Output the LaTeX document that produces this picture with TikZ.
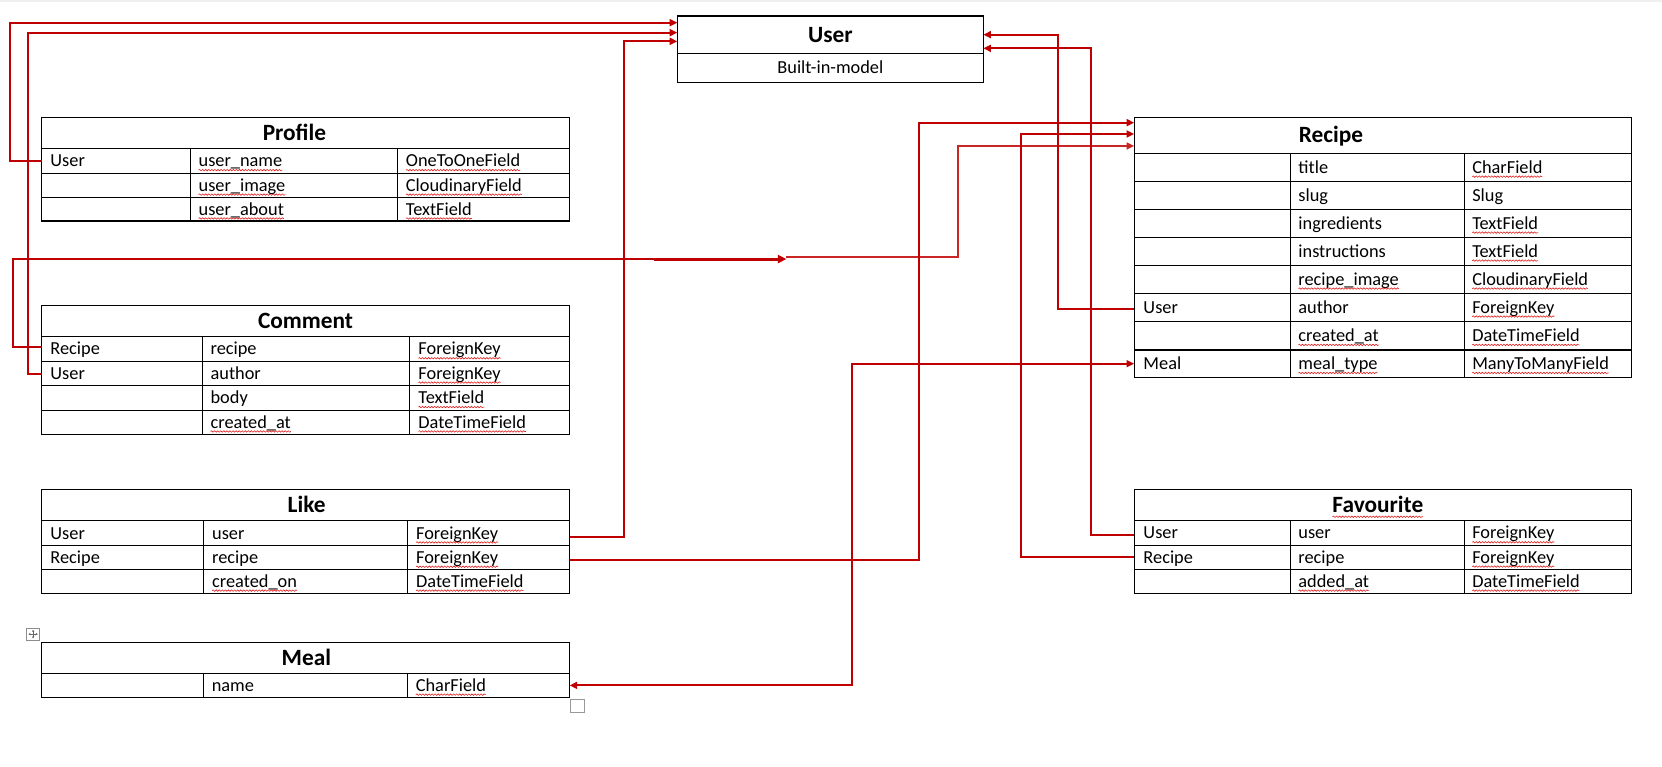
\documentclass[tikz,border=0pt]{standalone}
\usepackage{fontspec}
\setmainfont{Carlito}
\usetikzlibrary{fit,calc,arrows.meta,decorations.pathmorphing}
\definecolor{conn}{RGB}{192,0,0}
\definecolor{squigred}{RGB}{225,30,30}
\tikzset{
 rowbox/.style={draw=black, line width=0.8pt, inner sep=0pt, outer sep=0pt},
 divider/.style={draw=black, line width=0.8pt},
 txt/.style={anchor=base west, inner sep=0pt, outer sep=0pt, font=\fontsize{13.75pt}{16pt}\selectfont},
 ttl/.style={anchor=base, inner sep=0pt, outer sep=0pt, font=\bfseries\fontsize{17.5pt}{20pt}\selectfont},
 rel/.style={draw=conn, line width=1.5pt},
 reltip/.style={-{Triangle[length=5.7pt,width=5.2pt]}},
 relboth/.style={{Triangle[length=5.7pt,width=5.2pt]}-{Triangle[length=5.7pt,width=5.2pt]}},
 squig/.style={draw=squigred, line width=0.45pt, decorate, decoration={snake, amplitude=0.55pt, segment length=2.3pt}},
}
\newcommand\mkrow[5]{\node[rowbox, fit={(#2,#3) (#4,#5)}] (#1) {};}
\newcommand\mkfld[4]{\node[txt, yshift=-4.45pt] (#1) at (#3,0 |- #2.west) {#4};}
\newcommand\squ[1]{\draw[squig] ([yshift=-2.5pt]#1.base west) -- ([yshift=-2.5pt]#1.base east);}
\begin{document}
\begin{tikzpicture}[x=0.795pt, y={(0pt,-0.795pt)}]
\useasboundingbox (0,0) rectangle (1568,723);
\fill[white] (0,0) rectangle (1568,723);
\fill[black!6] (0,0) rectangle (1568,2);

% ---------- User ----------
\mkrow{userH}{639}{15.1}{927.7}{50.3}
\mkrow{userB}{639}{50.3}{927.7}{77.4}
\node[ttl, yshift=-5.64pt] (userT) at (783.4,0 |- userH.center) {User};
\node[txt, anchor=base, yshift=-4.45pt] (userS) at (783.4,0 |- userB.center) {Built-in-model};

% ---------- Profile ----------
\mkrow{profH}{39.2}{110.7}{537.4}{140}
\mkrow{profR1}{39.2}{140}{537.4}{163.5}
\mkrow{profR2}{39.2}{163.5}{537.4}{186.2}
\mkrow{profR3}{39.2}{186.2}{537.4}{208.5}
\draw[divider] (179.8,140) -- (179.8,208.5) (374.9,140) -- (374.9,208.5);
\node[ttl, yshift=-5.64pt] (profT) at (277.8,0 |- profH.center) {Profile};
\mkfld{profA1}{profR1}{47.6}{User}
\mkfld{profB1}{profR1}{187.4}{user\_name}\squ{profB1}
\mkfld{profC1}{profR1}{383}{OneToOneField}\squ{profC1}
\mkfld{profB2}{profR2}{187.4}{user\_image}\squ{profB2}
\mkfld{profC2}{profR2}{383}{CloudinaryField}\squ{profC2}
\mkfld{profB3}{profR3}{187.4}{user\_about}\squ{profB3}
\mkfld{profC3}{profR3}{383}{TextField}\squ{profC3}

% ---------- Comment ----------
\mkrow{cmH}{39.2}{288.4}{537.4}{317.6}
\mkrow{cmR1}{39.2}{317.6}{537.4}{340.9}
\mkrow{cmR2}{39.2}{340.9}{537.4}{363.5}
\mkrow{cmR3}{39.2}{363.5}{537.4}{387.1}
\mkrow{cmR4}{39.2}{387.1}{537.4}{409.5}
\draw[divider] (190.8,317.6) -- (190.8,409.5) (386.2,317.6) -- (386.2,409.5);
\node[ttl, yshift=-5.64pt] (cmT) at (288.3,0 |- cmH.center) {Comment};
\mkfld{cmA1}{cmR1}{47.6}{Recipe}
\mkfld{cmB1}{cmR1}{198.7}{recipe}
\mkfld{cmC1}{cmR1}{394.8}{ForeignKey}\squ{cmC1}
\mkfld{cmA2}{cmR2}{47.6}{User}
\mkfld{cmB2}{cmR2}{198.7}{author}
\mkfld{cmC2}{cmR2}{394.8}{ForeignKey}\squ{cmC2}
\mkfld{cmB3}{cmR3}{198.7}{body}
\mkfld{cmC3}{cmR3}{394.8}{TextField}\squ{cmC3}
\mkfld{cmB4}{cmR4}{198.7}{created\_at}\squ{cmB4}
\mkfld{cmC4}{cmR4}{394.8}{DateTimeField}\squ{cmC4}

% ---------- Like ----------
\mkrow{likeH}{39.2}{461.6}{537.4}{491.2}
\mkrow{likeR1}{39.2}{491.2}{537.4}{514.8}
\mkrow{likeR2}{39.2}{514.8}{537.4}{537.1}
\mkrow{likeR3}{39.2}{537.1}{537.4}{559.8}
\draw[divider] (192,491.2) -- (192,559.8) (384.5,491.2) -- (384.5,559.8);
\node[ttl, yshift=-5.64pt] (likeT) at (289.3,0 |- likeH.center) {Like};
\mkfld{likeA1}{likeR1}{47.6}{User}
\mkfld{likeB1}{likeR1}{200.2}{user}
\mkfld{likeC1}{likeR1}{392.6}{ForeignKey}\squ{likeC1}
\mkfld{likeA2}{likeR2}{47.6}{Recipe}
\mkfld{likeB2}{likeR2}{200.2}{recipe}
\mkfld{likeC2}{likeR2}{392.6}{ForeignKey}\squ{likeC2}
\mkfld{likeB3}{likeR3}{200.2}{created\_on}\squ{likeB3}
\mkfld{likeC3}{likeR3}{392.6}{DateTimeField}\squ{likeC3}

% ---------- Meal ----------
\mkrow{mealH}{39.2}{606}{537.4}{635.3}
\mkrow{mealR1}{39.2}{635.3}{537.4}{657.9}
\draw[divider] (192,635.3) -- (192,657.9) (384.5,635.3) -- (384.5,657.9);
\node[ttl, yshift=-5.64pt] (mealT) at (289,0 |- mealH.center) {Meal};
\mkfld{mealB1}{mealR1}{199.8}{name}
\mkfld{mealC1}{mealR1}{392.3}{CharField}\squ{mealC1}

% ---------- Recipe ----------
\mkrow{recH}{1070}{110.7}{1539.6}{144.7}
\mkrow{recR1}{1070}{144.7}{1539.6}{171.1}
\mkrow{recR2}{1070}{171.1}{1539.6}{197.5}
\mkrow{recR3}{1070}{197.5}{1539.6}{223.9}
\mkrow{recR4}{1070}{223.9}{1539.6}{250.3}
\mkrow{recR5}{1070}{250.3}{1539.6}{276.7}
\mkrow{recR6}{1070}{276.7}{1539.6}{303.1}
\mkrow{recR7}{1070}{303.1}{1539.6}{330.2}
\mkrow{recR8}{1070}{330.2}{1539.6}{356}
\draw[divider] (1217.4,144.7) -- (1217.4,356) (1381.5,144.7) -- (1381.5,356);
\node[ttl, yshift=-5.64pt] (recT) at (1255.7,0 |- recH.center) {Recipe};
\mkfld{recB1}{recR1}{1225}{title}
\mkfld{recC1}{recR1}{1389}{CharField}\squ{recC1}
\mkfld{recB2}{recR2}{1225}{slug}
\mkfld{recC2}{recR2}{1389}{Slug}
\mkfld{recB3}{recR3}{1225}{ingredients}
\mkfld{recC3}{recR3}{1389}{TextField}\squ{recC3}
\mkfld{recB4}{recR4}{1225}{instructions}
\mkfld{recC4}{recR4}{1389}{TextField}\squ{recC4}
\mkfld{recB5}{recR5}{1225}{recipe\_image}\squ{recB5}
\mkfld{recC5}{recR5}{1389}{CloudinaryField}\squ{recC5}
\mkfld{recA6}{recR6}{1078.8}{User}
\mkfld{recB6}{recR6}{1225}{author}
\mkfld{recC6}{recR6}{1389}{ForeignKey}\squ{recC6}
\mkfld{recB7}{recR7}{1225}{created\_at}\squ{recB7}
\mkfld{recC7}{recR7}{1389}{DateTimeField}\squ{recC7}
\mkfld{recA8}{recR8}{1078.8}{Meal}
\mkfld{recB8}{recR8}{1225}{meal\_type}\squ{recB8}
\mkfld{recC8}{recR8}{1389}{ManyToManyField}\squ{recC8}

% ---------- Favourite ----------
\mkrow{favH}{1070}{461.6}{1539.6}{491.2}
\mkrow{favR1}{1070}{491.2}{1539.6}{514.5}
\mkrow{favR2}{1070}{514.5}{1539.6}{537.1}
\mkrow{favR3}{1070}{537.1}{1539.6}{559.8}
\draw[divider] (1217.4,491.2) -- (1217.4,559.8) (1381.5,491.2) -- (1381.5,559.8);
\node[ttl, yshift=-5.64pt] (favT) at (1299.9,0 |- favH.center) {Favourite};
\draw[squig] ([yshift=-3.2pt]favT.base west) -- ([yshift=-3.2pt]favT.base east);
\mkfld{favA1}{favR1}{1078.8}{User}
\mkfld{favB1}{favR1}{1225}{user}
\mkfld{favC1}{favR1}{1389}{ForeignKey}\squ{favC1}
\mkfld{favA2}{favR2}{1078.8}{Recipe}
\mkfld{favB2}{favR2}{1225}{recipe}
\mkfld{favC2}{favR2}{1389}{ForeignKey}\squ{favC2}
\mkfld{favB3}{favR3}{1225}{added\_at}\squ{favB3}
\mkfld{favC3}{favR3}{1389}{DateTimeField}\squ{favC3}

% ---------- Word table handles ----------
\draw[black!45, line width=0.5pt, fill=white] (25,592.5) rectangle (37.5,604);
\draw[black!60, line width=0.4pt, {Stealth[length=1.6pt,width=1.8pt]}-{Stealth[length=1.6pt,width=1.8pt]}] (26.8,598.25) -- (35.7,598.25);
\draw[black!60, line width=0.4pt, {Stealth[length=1.6pt,width=1.8pt]}-{Stealth[length=1.6pt,width=1.8pt]}] (31.25,594.2) -- (31.25,602.3);
\draw[black!40, line width=0.6pt] (538.5,659.5) rectangle (551,672);

% ---------- Connectors ----------
\draw[rel, reltip] (profR1.west) -- ++(-29.9,0) |- ($(userH.north west)+(0,6.3)$);
\draw[rel, reltip] ($(cmR2.west)+(0,1)$) -- ++(-13.1,0) |- ($(userH.north west)+(0,15.7)$);
\draw[rel, reltip] ($(likeR1.east)+(0,3.3)$) -- ++(51.1,0) |- ($(userH.north west)+(0,23.9)$);

\coordinate (c4a) at (617,244.4);
\coordinate (c4b) at (742,244.4);
\coordinate (c4c) at (742,242.2);
\draw[rel] ($(cmR1.west)+(0,-2.2)$) -- ++(-27.4,0) |- (c4a);
\draw[rel, line width=2.2pt, -{Triangle[length=6.5pt,width=6pt]}] (c4a) -- (c4b);
\draw[rel, draw=conn!85!white, reltip] (c4c) -- ++(161.5,0) |- ($(recH.north west)+(0,27)$);

\draw[rel, reltip] ($(likeR2.east)+(0,2.4)$) -- ++(329.3,0) |- ($(recH.north west)+(0,5)$);
\draw[rel, relboth] (recR8.west) -- ++(-266.2,0) |- (mealR1.east);
\draw[rel, reltip] ($(recR6.west)+(0,1.6)$) -- ++(-71.7,0) |- ($(userH.north east)+(0,17.6)$);
\draw[rel, reltip] ($(favR1.west)+(0,1.9)$) -- ++(-40.5,0) |- ($(userH.north east)+(0,30.5)$);
\draw[rel, reltip] (favR2.west) -- ++(-106.7,0) |- ($(recH.north west)+(0,15.7)$);
\end{tikzpicture}
\end{document}
